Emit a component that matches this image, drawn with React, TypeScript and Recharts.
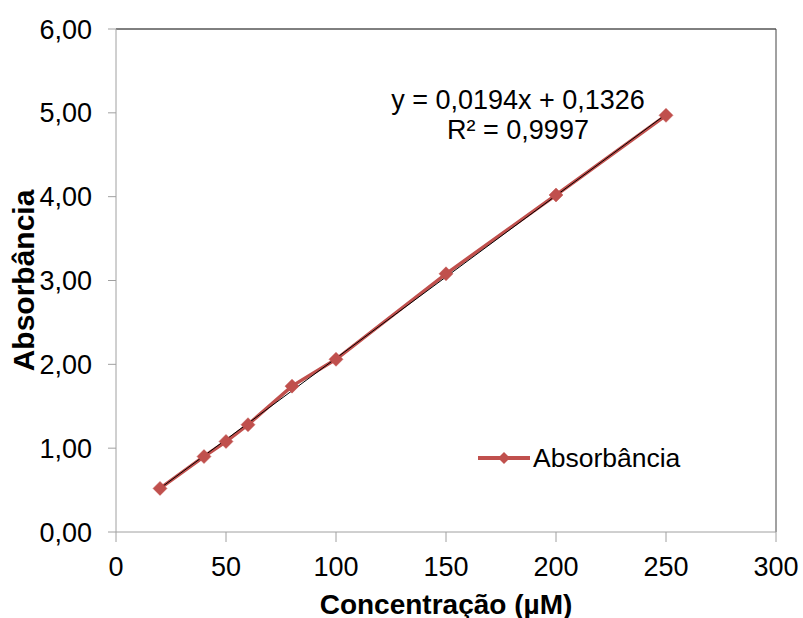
import React from 'react';
import { ComposedChart, Line, XAxis, YAxis, ReferenceLine, Label } from 'recharts';

// concentração (µM) e absorbância
const concentracoes = [20, 40, 50, 60, 80, 100, 150, 200, 250];
const absorbancias = [0.52, 0.9, 1.08, 1.28, 1.74, 2.06, 3.08, 4.02, 4.97];
const xTicks = [0, 50, 100, 150, 200, 250, 300];
const yTicks = [0, 1, 2, 3, 4, 5, 6];
// linha de tendência linear: y = 0,0194x + 0,1326
const trendX = [20, 250];
const slope = 0.0194;
const intercept = 0.1326;

const data = concentracoes.map((c, i) => ({ x: c, y: absorbancias[i] }));
const trend = trendX.map((x) => ({ x, t: slope * x + intercept }));

const RED = '#C0504D';
const FONT = '"Liberation Sans", Arial, sans-serif';

const fmt = (v: number) => v.toFixed(2).replace('.', ',');

function Diamond(props: any) {
  const { cx, cy } = props;
  if (cx == null || cy == null) return null;
  const s = 7;
  return (
    <path
      d={`M${cx},${cy - s} L${cx + s},${cy} L${cx},${cy + s} L${cx - s},${cy} Z`}
      fill={RED}
      stroke={RED}
      strokeWidth={0.5}
    />
  );
}

// legenda desenhada à parte (o Legend do recharts rouba espaço do gráfico)
function LegendBox() {
  return (
    <svg
      width={220}
      height={30}
      style={{ position: 'absolute', left: 478, top: 443, overflow: 'visible' }}
    >
      <line x1={0} y1={15} x2={52} y2={15} stroke={RED} strokeWidth={4} />
      <path d="M26,9 L32,15 L26,21 L20,15 Z" fill={RED} />
      <text x={55} y={15} dominantBaseline="central" fontSize={26.5} fontFamily={FONT} fill="#000">
        Absorbância
      </text>
    </svg>
  );
}

export default function App() {
  return (
    <div style={{ position: 'absolute', left: 0, top: 0, width: 803, height: 618, background: '#fff' }}>
      <ComposedChart width={803} height={618} data={data} margin={{ top: 29, right: 27, left: 0, bottom: 0 }}>
        <XAxis
          dataKey="x"
          type="number"
          domain={[0, 300]}
          ticks={xTicks}
          height={86}
          stroke="#A0A0A0"
          tickSize={10}
          tickMargin={15}
          tick={{ fill: '#000', fontSize: 27, fontFamily: FONT }}
          allowDuplicatedCategory={false}
        >
          <Label
            content={({ viewBox }: any) => (
              <text
                x={viewBox.x + viewBox.width / 2}
                y={604}
                textAnchor="middle"
                dominantBaseline="central"
                fontSize={28}
                fontWeight="bold"
                fontFamily={FONT}
                fill="#000"
              >
                Concentração (µM)
              </text>
            )}
          />
        </XAxis>
        <YAxis
          type="number"
          domain={[0, 6]}
          ticks={yTicks}
          width={116}
          stroke="#A0A0A0"
          tickSize={8}
          tickMargin={16}
          tickFormatter={fmt}
          tick={{ fill: '#000', fontSize: 27, fontFamily: FONT }}
        >
          <Label
            content={({ viewBox }: any) => {
              const cx = 23;
              const cy = viewBox.y + viewBox.height / 2;
              return (
                <text
                  x={cx}
                  y={cy}
                  transform={`rotate(-90, ${cx}, ${cy})`}
                  textAnchor="middle"
                  dominantBaseline="central"
                  fontSize={30}
                  fontWeight="bold"
                  fontFamily={FONT}
                  fill="#000"
                >
                  Absorbância
                </text>
              );
            }}
          />
        </YAxis>
        <ReferenceLine y={6} stroke="#000" strokeWidth={1} />
        <ReferenceLine x={300} stroke="#444" strokeWidth={1} />
        <Line
          dataKey="y"
          stroke={RED}
          strokeWidth={3.5}
          dot={<Diamond />}
          isAnimationActive={false}
        />
        <Line
          data={trend}
          dataKey="t"
          stroke="#000"
          strokeWidth={1}
          dot={false}
          isAnimationActive={false}
        />
      </ComposedChart>
      <LegendBox />
      <div
        style={{
          position: 'absolute',
          left: 383,
          top: 85,
          width: 270,
          textAlign: 'center',
          fontFamily: FONT,
          fontSize: 27,
          lineHeight: '30px',
          color: '#000',
        }}
      >
        y = 0,0194x + 0,1326
        <br />
        R² = 0,9997
      </div>
    </div>
  );
}
